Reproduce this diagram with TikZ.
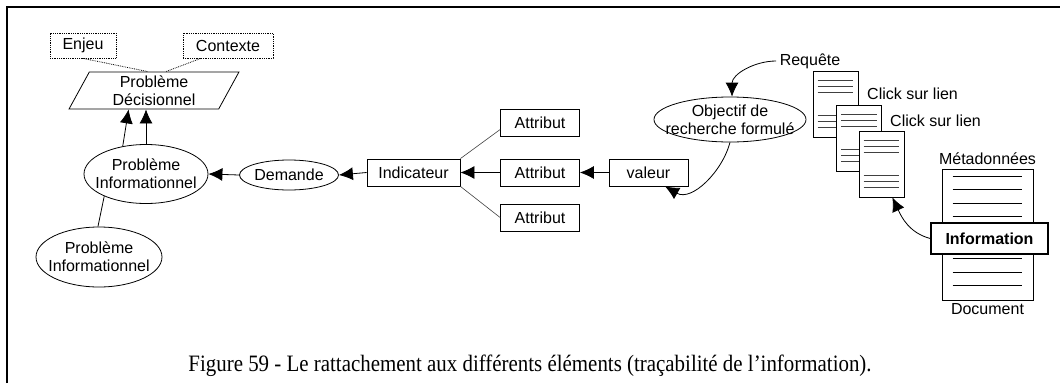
\documentclass[tikz,border=0pt]{standalone}
\usepackage{fontspec}
\setmainfont{Liberation Sans}
\newfontfamily\capfont{Liberation Serif}
\usetikzlibrary{positioning,arrows.meta,calc,shapes.geometric}

\begin{document}
\begin{tikzpicture}[x=1pt,y=1pt,
  every node/.style={font=\fontsize{16}{18}\selectfont},
  box/.style={draw,line width=0.8pt,rectangle,minimum height=27pt,inner sep=0pt},
  dotbox/.style={draw,densely dotted,line width=0.8pt,rectangle,minimum height=25pt,inner sep=0pt},
  bubble/.style={draw,line width=0.8pt,ellipse,inner xsep=-12pt,inner ysep=-2pt,align=center},
  page/.style={draw,line width=0.8pt,fill=white,minimum width=45pt,minimum height=66pt,inner sep=0pt},
  link/.style={-{Latex[length=14pt,width=13pt]},line width=0.8pt},
  tie/.style={line width=0.6pt,black!75}]
\useasboundingbox (0,0) rectangle (1060,-383);
% frame: top and left rules only
\draw[line width=2pt] (7,-383) -- (7,-7) -- (1060,-7);

% decision problem and its context
\node[dotbox,minimum width=66pt] (enjeu) at (83,-45.5) {Enjeu};
\node[dotbox,minimum width=90pt] (contexte) at (228,-45.5) {Contexte};
\node[draw,line width=0.8pt,trapezium,trapezium left angle=66.6,trapezium right angle=113.4,
  trapezium stretches=true,minimum width=170pt,minimum height=37pt,inner sep=0pt,
  align=center] (decision) at (154,-90.5) {Problème\\Décisionnel};
\draw[densely dotted,line width=0.8pt] (enjeu.south) -- ($(decision.top left corner)!0.39!(decision.top right corner)$);
\draw[densely dotted,line width=0.8pt] ($(contexte.south west)!0.2!(contexte.south east)$) -- ($(decision.top left corner)!0.51!(decision.top right corner)$);

% informational problems
\node[bubble,minimum width=124pt,minimum height=59pt] (pinfo) at (146,-174) {Problème\\Informationnel};
\node[bubble,minimum width=126pt,minimum height=60pt] (pinfo2) at (99,-257) {Problème\\Informationnel};
\node[bubble,minimum width=99pt,minimum height=30pt] (demande) at (289,-175) {Demande};
\draw[link] (pinfo.130) -- ($(decision.bottom left corner)!0.40!(decision.bottom right corner)$);
\draw[link] (pinfo.north) -- (pinfo.north |- decision.bottom left corner);
\draw[line width=0.8pt] (pinfo.208) -- (pinfo2.92);
\draw[link] (demande.west) -- (pinfo.east);

% indicator, attributes, value
\node[box,minimum width=93pt] (indic) at (413.5,-172.5) {Indicateur};
\node[box,minimum width=79pt] (attrA) at (540,-122.5) {Attribut};
\node[box,minimum width=79pt] (attrB) at (540,-172.5) {Attribut};
\node[box,minimum width=79pt] (attrC) at (540,-217.5) {Attribut};
\node[box,minimum width=79pt] (valeur) at (648.5,-172.5) {valeur};
\draw[link] (indic.west) -- (demande.east);
\draw[tie] (indic.north east) -- (attrA.190);
\draw[tie] (indic.south east) -- (attrC.west);
\draw[link] (attrB.west) -- (indic.east);
\draw[link] (valeur.west) -- (attrB.east);

% search goal
\node[bubble,minimum width=152pt,minimum height=45pt] (objectif) at (730,-119.5) {Objectif de\\recherche formulé};
\node (requete) at (810,-61) {Requête};
\draw[link] (requete.west) to[out=180,in=90] (objectif.85);
\draw[link] (objectif.south) to[out=-105,in=-30] (valeur.320);

% visited pages
\foreach \n/\x/\y in {1/835.5/-104,2/859/-138,3/881.5/-164} {
  \node[page] (d\n) at (\x,\y) {};
  \foreach \f in {0.15,0.24,0.33,0.67,0.76,0.85}
    \draw[black!75,line width=0.7pt] ($(d\n.north west)!\f!(d\n.south west)+(5,0)$) -- ($(d\n.north east)!\f!(d\n.south east)+(-5,0)$);
}
\node[anchor=west,inner sep=0pt] (click1) at (867,-94) {Click sur lien};
\node[anchor=west,inner sep=0pt] (click2) at (890,-121) {Click sur lien};

% document with metadata
\node[draw,line width=0.8pt,minimum width=91pt,minimum height=131pt,inner sep=0pt] (doc) at (987.5,-234.5) {};
\foreach \f in {0.061,0.160,0.260,0.366,0.679,0.786,0.885}
  \draw[line width=0.7pt] ($(doc.north west)!\f!(doc.south west)+(11,0)$) -- ($(doc.north east)!\f!(doc.south east)+(-11,0)$);
\node[inner sep=0pt,above=4pt of doc] (meta) {Métadonnées};
\node[inner sep=0pt,below=3pt of doc] (doclbl) {Document};
\node[draw,line width=1.6pt,fill=white,minimum width=117pt,minimum height=31pt,inner sep=0pt,
  font=\bfseries\fontsize{16}{18}\selectfont] (info) at (989.5,-238.5) {Information};
\draw[link] (info.west) to[out=165,in=-65] (d3.-72);

% caption
\node[font=\capfont\fontsize{23.5}{26}\selectfont,xscale=0.89] (caption) at (530,-366) {Figure 59 - Le rattachement aux différents éléments (traçabilité de l’information).};
\end{tikzpicture}
\end{document}
